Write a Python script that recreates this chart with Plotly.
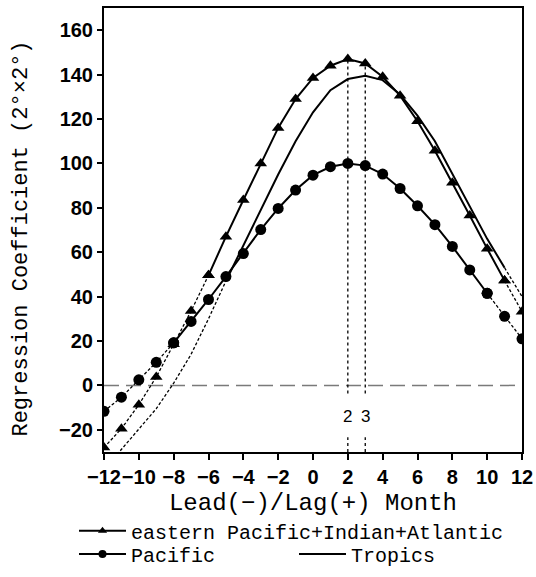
import plotly.graph_objects as go

# ---------------- data ----------------
months = list(range(-12, 13))
epia = [-28, -19.5, -8.7, 3.8, 18.5, 33.5, 49.6, 67, 83.5, 100, 116, 129, 138.5,
        144, 147, 145, 139, 130.5, 119, 105.7, 91.3, 76.5, 61.6, 47.2, 33.2]
pacific = [-11.7, -5.3, 2.5, 10.4, 19.2, 28.8, 38.7, 49, 59.4, 70.2, 79.7, 88, 94.7,
           98.5, 100, 99, 95.2, 88.7, 80.9, 72.4, 62.6, 52, 41.5, 31.1, 21]
tropics = [-38, -29, -20, -10.5, 1, 14, 30, 47, 63, 79, 95, 110, 123,
           133, 138, 139.5, 137.5, 131, 121.5, 110, 95.5, 81, 66, 53, 40]
# month ranges where the curves are drawn solid (significant)
epia_solid = (-6, 11)
pacific_solid = (-8, 10)
tropics_solid = (-5, 11)
peak_months = [2, 3]
x_ticks = list(range(-12, 13, 2))
y_ticks = list(range(-20, 161, 20))

names = ["eastern Pacific+Indian+Atlantic", "Pacific", "Tropics"]
x_title = "Lead(−)/Lag(+) Month"
y_title = "Regression Coefficient (2°×2°)"

MONO = "Liberation Mono"
SANS = "Liberation Sans"

fig = go.Figure()


def add_series(vals, solid, name, symbol, legend):
    lo, hi = solid
    segs = [
        ([m for m in months if m <= lo], "3px,2px"),
        ([m for m in months if lo <= m <= hi], "solid"),
        ([m for m in months if m >= hi], "3px,2px"),
    ]
    mode = "lines+markers" if symbol else "lines"
    for xs, dash in segs:
        if len(xs) < 2:
            continue
        ys = [vals[months.index(m)] for m in xs]
        fig.add_trace(go.Scatter(
            x=xs, y=ys, mode=mode, name=name,
            line=dict(color="black", width=2 if dash == "solid" else 1.3, dash=dash),
            marker=dict(symbol=symbol or "circle", size=11, color="black"),
            showlegend=False, legendgroup=name,
        ))
    # legend entry (smaller marker, like the reference key)
    fig.add_trace(go.Scatter(
        x=[None], y=[None], mode=mode, name=name,
        line=dict(color="black", width=2),
        marker=dict(symbol=symbol or "circle", size=8, color="black"),
        showlegend=True, legend=legend, legendgroup=name,
    ))


add_series(epia, epia_solid, names[0], "triangle-up", "legend")
add_series(pacific, pacific_solid, names[1], "circle", "legend2")
add_series(tropics, tropics_solid, names[2], None, "legend3")

# zero line
fig.add_shape(type="line", xref="x", yref="y", x0=-12, x1=12, y0=0, y1=0,
              line=dict(color="#7a7a7a", width=1.5, dash="15px,7px"), layer="below")

# vertical dotted lines at peak months, with gap for labels
for m in peak_months:
    top = epia[months.index(m)]
    fig.add_shape(type="line", xref="x", yref="y", x0=m, x1=m, y0=-3.6, y1=top,
                  line=dict(color="black", width=1.3, dash="dot"))
    fig.add_shape(type="line", xref="x", yref="y", x0=m, x1=m, y0=-30, y1=-23.3,
                  line=dict(color="black", width=1.3, dash="dot"))
    fig.add_annotation(x=m, y=-13.8, xref="x", yref="y", text=str(m), showarrow=False,
                       font=dict(family=SANS, size=17, color="black"))

# y-axis title (as rotated text left of the tick labels)
fig.add_annotation(x=-0.197, y=0.48, xref="paper", yref="paper", text=y_title,
                   textangle=-90, showarrow=False, xanchor="center", yanchor="middle",
                   font=dict(family=MONO, size=22, color="black"))

axis_common = dict(showline=True, linecolor="black", linewidth=2, mirror=True,
                   showgrid=False, zeroline=False, ticks="outside",
                   tickcolor="black", tickwidth=1.5, automargin=False)

fig.update_xaxes(range=[-12, 12], tickvals=x_ticks, ticklen=6, tickangle=0,
                 tickfont=dict(family=SANS, size=20, color="black", weight="bold"),
                 title=dict(text=x_title, standoff=6,
                            font=dict(family=MONO, size=24, color="black")),
                 **axis_common)
fig.update_yaxes(range=[-30, 170], tickvals=y_ticks, ticklen=5,
                 tickfont=dict(family=SANS, size=20, color="black", weight="bold"),
                 **axis_common)

leg_font = dict(family=MONO, size=20, color="black")
leg_common = dict(xref="container", yref="container", xanchor="left", yanchor="middle",
                  font=leg_font, bgcolor="rgba(0,0,0,0)", itemwidth=47)
fig.update_layout(
    width=536, height=577,
    margin=dict(l=104, r=14, t=8, b=125, autoexpand=False),
    plot_bgcolor="white", paper_bgcolor="white",
    legend=dict(x=74 / 536, y=1 - 530.7 / 577, **leg_common),
    legend2=dict(x=74 / 536, y=1 - 554 / 577, **leg_common),
    legend3=dict(x=294 / 536, y=1 - 554 / 577, **leg_common),
)

fig.write_html("out.html", config={"displayModeBar": False},
               post_script="document.body.style.margin='0';")
